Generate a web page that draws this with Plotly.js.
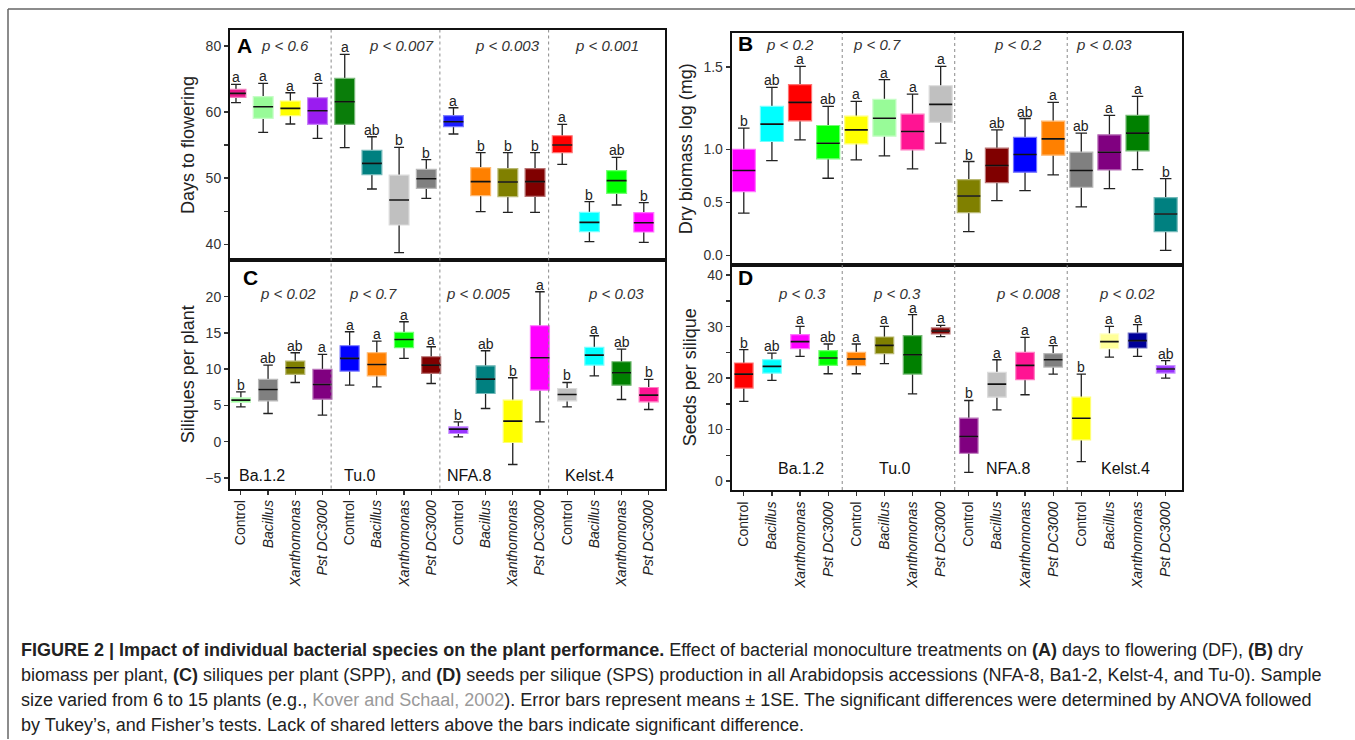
<!DOCTYPE html>
<html><head><meta charset="utf-8">
<script src="https://cdn.plot.ly/plotly-3.0.1.min.js"></script>
<style>html,body{margin:0;padding:0;background:#fff;} #chart{width:1355px;height:740px;}</style>
</head><body><div id="chart"></div>
<script>
// ---------- data ----------
const accessions = ['Ba.1.2','Tu.0','NFA.8','Kelst.4'];
const treatments = ['Control','Bacillus','Xanthomonas','Pst DC3000'];

// (A) Days to flowering
const dfQ1  = [62.22,59.04,59.45,58.14, 58.14,50.53,42.93,48.47, 57.78,47.36,47.21,47.26, 53.86,41.92,47.71,41.87];
const dfMed = [62.82,60.81,60.55,60.20, 61.56,52.25,46.71,49.93, 58.54,49.48,49.43,49.48, 55.02,43.33,49.63,43.28];
const dfQ3  = [63.42,62.32,61.66,62.16, 65.09,54.21,50.48,51.34, 59.45,51.59,51.44,51.44, 56.42,44.84,51.14,44.79];
const dfLo  = [61.41,56.93,58.19,56.02, 54.61,48.37,38.75,46.96, 56.68,44.94,44.84,44.84, 52.10,40.41,45.95,40.31];
const dfHi  = [64.18,64.33,62.92,64.33, 68.71,56.27,54.66,52.80, 60.65,53.86,53.86,53.86, 58.14,46.46,53.15,46.31];
const dfLetters = ['a','a','a','a','a','ab','b','b','a','b','b','b','a','b','ab','b'];
const dfP = ['p < 0.6','p < 0.007','p < 0.003','p < 0.001'];

// (B) Dry biomass log (mg)
const bmQ1  = [0.603,1.076,1.271,0.912, 1.054,1.126,0.997,1.256, 0.405,0.688,0.786,0.947, 0.644,0.808,0.988,0.225];
const bmMed = [0.802,1.240,1.445,1.060, 1.186,1.296,1.170,1.426, 0.562,0.849,0.953,1.101, 0.802,0.975,1.155,0.392];
const bmQ3  = [1.003,1.407,1.612,1.227, 1.315,1.473,1.334,1.602, 0.717,1.013,1.114,1.268, 0.975,1.139,1.322,0.547];
const bmLo  = [0.399,0.896,1.092,0.729, 0.903,0.940,0.818,1.060, 0.225,0.518,0.613,0.761, 0.458,0.632,0.811,0.049];
const bmHi  = [1.202,1.586,1.785,1.407, 1.454,1.659,1.523,1.785, 0.887,1.186,1.293,1.445, 1.155,1.322,1.501,0.726];
const bmLetters = ['b','ab','a','ab','a','a','a','a','b','ab','ab','a','ab','a','a','b'];
const bmP = ['p < 0.2','p < 0.7','p < 0.2','p < 0.03'];

// (C) Siliques per plant
const spQ1  = [5.41,5.64,9.28,5.87, 9.74,9.09,12.96,9.42, 1.13,6.65,-0.11,7.11, 5.64,10.57,7.80,5.50];
const spMed = [5.73,7.21,10.20,7.90, 11.49,10.66,14.11,10.57, 1.73,8.63,2.83,11.58, 6.51,11.95,9.51,6.42];
const spQ3  = [6.05,8.59,11.12,9.97, 13.24,12.27,15.08,11.72, 2.05,10.47,5.73,16.00, 7.34,13.01,11.03,7.48];
const spLo  = [4.81,3.89,8.17,3.66, 7.80,7.57,11.49,8.03, 0.67,4.58,-3.15,2.74, 4.81,9.09,5.82,4.44];
const spHi  = [6.88,10.57,12.27,12.04, 15.17,13.88,16.55,13.10, 2.74,12.55,8.82,20.69, 8.17,14.62,12.78,8.59];
const spLetters = ['b','ab','ab','a','a','a','a','a','b','ab','b','a','b','a','ab','b'];
const spP = ['p < 0.02','p < 0.7','p < 0.005','p < 0.03'];

// (D) Seeds per silique
const ssQ1  = [18.06,20.98,25.72,22.47, 22.41,24.74,20.78,28.58, 5.39,16.30,19.68,22.15, 7.99,25.72,25.85,20.98];
const ssMed = [20.78,22.28,27.08,23.90, 23.70,26.37,24.55,29.16, 8.64,18.83,22.47,23.57, 12.21,27.08,27.28,21.76];
const ssQ3  = [22.93,23.57,28.45,25.33, 25.00,27.99,28.25,29.75, 12.21,21.11,25.00,24.74, 16.30,28.58,28.77,22.41];
const ssLo  = [15.46,19.55,24.22,20.85, 20.85,22.80,16.95,28.06, 1.69,13.83,16.76,20.78, 3.77,24.09,24.22,20.00];
const ssHi  = [25.52,24.87,30.07,26.63, 26.63,30.07,32.34,30.26, 15.65,23.57,27.93,26.30, 20.78,30.07,30.39,23.38];
const ssLetters = ['b','ab','a','ab','a','a','a','a','b','a','a','a','b','a','a','ab'];
const ssP = ['p < 0.3','p < 0.3','p < 0.008','p < 0.02'];

// ---------- styles ----------
const colA = ['#e8178a','#98fb98','#ffff00','#9a1cf0','#0a7d0a','#008080','#c0c0c0','#808080','#1a1aff','#ff8000','#808000','#800000','#ff0000','#00ffff','#00ff00','#ff00ff'];
const colB = ['#ff00ff','#00ffff','#ff0000','#00ff00','#ffff00','#98fb98','#ff1493','#c0c0c0','#808000','#800000','#0000ff','#ff8000','#808080','#800080','#008000','#008080'];
const colC = ['#98fb98','#808080','#808000','#800080','#0000ff','#ff8000','#00ff00','#800000','#9933ff','#008080','#ffff00','#ff00ff','#c0c0c0','#00ffff','#008000','#ff1493'];
const colD = ['#ff0000','#00ffff','#ff00ff','#00ff00','#ff8000','#808000','#008000','#800000','#800080','#c0c0c0','#ff1493','#808080','#ffff00','#ffff99','#000099','#9933ff'];

const FONT = 'Liberation Sans, Arial, sans-serif';
const W = 1355, H = 740;
const px = v => v / W;
const py = v => 1 - v / H;

function lighten(hex, f) {
  const n = parseInt(hex.slice(1), 16);
  const r = (n >> 16) & 255, g = (n >> 8) & 255, b = n & 255;
  const m = c => Math.round(c + (255 - c) * f);
  return `rgb(${m(r)},${m(g)},${m(b)})`;
}
const esc = s => s.replace(/</g, '&lt;');

const traces = [];
const annotations = [];

function addPanel(xa, ya, q1, med, q3, lo, hi, letters, colors, bw) {
  for (let i = 0; i < med.length; i++) {
    const base = {type: 'box', orientation: 'v', x: [i], xaxis: xa, yaxis: ya, width: bw,
                  hoverinfo: 'skip', showlegend: false, boxpoints: false};
    // whiskers + caps
    traces.push(Object.assign({}, base, {q1: [med[i]], median: [med[i]], q3: [med[i]],
      lowerfence: [lo[i]], upperfence: [hi[i]], whiskerwidth: 0.5,
      line: {color: '#222', width: 1.3}, fillcolor: 'rgba(0,0,0,0)'}));
    // filled box
    traces.push(Object.assign({}, base, {q1: [q1[i]], median: [med[i]], q3: [q3[i]],
      lowerfence: [q1[i]], upperfence: [q3[i]], whiskerwidth: 0,
      line: {color: lighten(colors[i], 0.45), width: 1.2}, fillcolor: colors[i]}));
    // median line
    traces.push(Object.assign({}, base, {q1: [med[i]], median: [med[i]], q3: [med[i]],
      lowerfence: [med[i]], upperfence: [med[i]], whiskerwidth: 0,
      line: {color: '#111', width: 1.6}, fillcolor: 'rgba(0,0,0,0)'}));
    annotations.push({xref: xa, yref: ya, x: i, y: hi[i], text: letters[i], showarrow: false,
      yanchor: 'bottom', yshift: -3, font: {family: FONT, size: 14, color: '#222'}});
  }
}

addPanel('x',  'y',  dfQ1, dfMed, dfQ3, dfLo, dfHi, dfLetters, colA, 0.73);
addPanel('x2', 'y2', bmQ1, bmMed, bmQ3, bmLo, bmHi, bmLetters, colB, 0.82);
addPanel('x3', 'y3', spQ1, spMed, spQ3, spLo, spHi, spLetters, colC, 0.7);
addPanel('x4', 'y4', ssQ1, ssMed, ssQ3, ssLo, ssHi, ssLetters, colD, 0.66);

// p-values
function pAnn(list, xs, yc) {
  list.forEach((t, k) => annotations.push({xref: 'paper', yref: 'paper', x: px(xs[k]), y: py(yc),
    text: '<i>' + esc(t) + '</i>', showarrow: false, xanchor: 'center', yanchor: 'middle',
    font: {family: FONT, size: 15, color: '#333'}}));
}
pAnn(dfP, [285, 402, 508, 607], 45);
pAnn(bmP, [790, 877, 1018, 1104], 44);
pAnn(spP, [288, 373, 478, 616], 293.5);
pAnn(ssP, [802, 897, 1028, 1127], 293);

// panel letters
[['A', 244.5, 45], ['B', 745, 43.5], ['C', 250, 278], ['D', 745, 278]].forEach(([t, x, y]) =>
  annotations.push({xref: 'paper', yref: 'paper', x: px(x), y: py(y), text: '<b>' + t + '</b>',
    showarrow: false, xanchor: 'center', yanchor: 'middle', font: {family: FONT, size: 21, color: '#000'}}));

// accession labels
[237, 342, 445, 563].forEach((x, k) => annotations.push({
  xref: 'paper', yref: 'paper', x: px(x), y: py(475), text: accessions[k], showarrow: false,
  xanchor: 'left', yanchor: 'middle', font: {family: FONT, size: 16, color: '#111'}}));
[801, 895, 1008, 1125].forEach((x, k) => annotations.push({
  xref: 'paper', yref: 'paper', x: px(x), y: py(468), text: accessions[k], showarrow: false,
  xanchor: 'center', yanchor: 'middle', font: {family: FONT, size: 16, color: '#111'}}));

// caption
const captionLines = [
  '<b>FIGURE 2 | Impact of individual bacterial species on the plant performance.</b> Effect of bacterial monoculture treatments on <b>(A)</b> days to flowering (DF), <b>(B)</b> dry',
  'biomass per plant, <b>(C)</b> siliques per plant (SPP), and <b>(D)</b> seeds per silique (SPS) production in all Arabidopsis accessions (NFA-8, Ba1-2, Kelst-4, and Tu-0). Sample',
  'size varied from 6 to 15 plants (e.g., <span style="color:#9a9a9a">Kover and Schaal, 2002</span>). Error bars represent means ± 1SE. The significant differences were determined by ANOVA followed',
  'by Tukey’s, and Fisher’s tests. Lack of shared letters above the bars indicate significant difference.'
];
const capY = [650, 675, 700, 725];
captionLines.forEach((t, k) => annotations.push({xref: 'paper', yref: 'paper', x: px(19), y: py(capY[k]),
  text: t, showarrow: false, xanchor: 'left', yanchor: 'middle', align: 'left',
  font: {family: FONT, size: 18, color: '#222'}}));

// ---------- axes ----------
const tickLab = treatments.map(t => t === 'Control' ? t : '<i>' + t + '</i>');
const allTickText = [0,1,2,3].flatMap(() => tickLab);
const allTickVals = allTickText.map((_, i) => i);

const axBase = {showline: true, mirror: true, linewidth: 2, linecolor: '#111', zeroline: false,
  showgrid: false, fixedrange: true};
const yBase = Object.assign({}, axBase, {ticks: 'outside', ticklen: 4, tickwidth: 1.5, tickcolor: '#333',
  tickfont: {family: FONT, size: 14, color: '#333'}});
const xNoLab = Object.assign({}, axBase, {showticklabels: false, ticks: ''});
const xLab = Object.assign({}, axBase, {tickvals: allTickVals, ticktext: allTickText, tickangle: -90,
  ticks: 'outside', ticklen: 4, tickwidth: 1.2, tickcolor: '#333',
  tickfont: {family: FONT, size: 14, color: '#222'}});

const dAC = [px(230), px(665)];
const dBD = [px(731.7), px(1181.7)];

const layout = {
  width: W, height: H, margin: {l: 0, r: 0, t: 0, b: 0}, autosize: false,
  paper_bgcolor: '#fff', plot_bgcolor: '#fff', showlegend: false,
  font: {family: FONT},
  xaxis:  Object.assign({}, xNoLab, {domain: dAC, anchor: 'y', range: [-0.22, 15.78]}),
  yaxis:  Object.assign({}, yBase, {domain: [py(260), py(30)], anchor: 'x', range: [37.64, 72.4],
            tickvals: [40,45,50,55,60,70], ticktext: ['40','','50','','60','80'],
            title: {text: 'Days to flowering', standoff: 6, font: {family: FONT, size: 18, color: '#222'}}}),
  xaxis2: Object.assign({}, xNoLab, {domain: dBD, anchor: 'y2', range: [-0.43, 15.57]}),
  yaxis2: Object.assign({}, yBase, {domain: [py(264.5), py(33)], anchor: 'x2', range: [-0.085, 2.10],
            tickvals: [0, 0.5, 1.0, 1.78], ticktext: ['0.0','0.5','1.0','1.5'],
            title: {text: 'Dry biomass log (mg)', standoff: 6, font: {family: FONT, size: 18, color: '#222'}}}),
  xaxis3: Object.assign({}, xLab, {domain: dAC, anchor: 'y3', range: [-0.4, 15.6]}),
  yaxis3: Object.assign({}, yBase, {domain: [py(488.5), py(260)], anchor: 'x3', range: [-6.46, 25.07],
            tickvals: [-5,0,5,10,15,20],
            title: {text: 'Siliques per plant', standoff: 6, font: {family: FONT, size: 18, color: '#222'}}}),
  xaxis4: Object.assign({}, xLab, {domain: dBD, anchor: 'y4', range: [-0.43, 15.57]}),
  yaxis4: Object.assign({}, yBase, {domain: [py(490), py(264.5)], anchor: 'x4', range: [-1.75, 42.08],
            tickvals: [0,5,10,15,20,25,30,35,40], ticktext: ['0','','10','','20','','30','','40'],
            title: {text: 'Seeds per silique', standoff: 6, font: {family: FONT, size: 18, color: '#222'}}}),
  shapes: [],
  annotations: annotations
};

// group dividers
[3.5, 7.5, 11.5].forEach(v => {
  layout.shapes.push({type: 'line', xref: 'x', yref: 'paper', x0: v, x1: v, y0: py(488.5), y1: py(30),
    line: {color: '#8a8a8a', width: 1, dash: 'dot'}});
  layout.shapes.push({type: 'line', xref: 'x2', yref: 'paper', x0: v, x1: v, y0: py(490), y1: py(33),
    line: {color: '#8a8a8a', width: 1, dash: 'dot'}});
});
// outer frame
layout.shapes.push({type: 'line', xref: 'paper', yref: 'paper', x0: px(8), x1: 1, y0: py(9), y1: py(9),
  line: {color: '#666', width: 1.5}});
layout.shapes.push({type: 'line', xref: 'paper', yref: 'paper', x0: px(8), x1: px(8), y0: py(9), y1: py(739),
  line: {color: '#666', width: 1.5}});

Plotly.newPlot('chart', traces, layout, {staticPlot: true, displayModeBar: false});
</script>
</body></html>
